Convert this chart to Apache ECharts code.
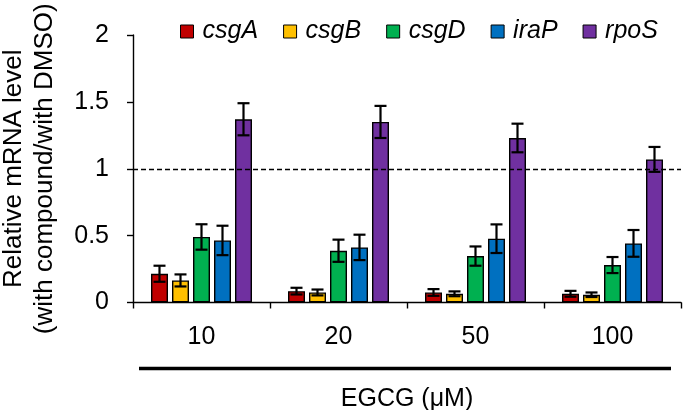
<!DOCTYPE html>
<html>
<head>
<meta charset="utf-8">
<script src="https://cdn.jsdelivr.net/npm/echarts@6/dist/echarts.min.js"></script>
<style>html,body{margin:0;padding:0;background:#fff;}#c{width:685px;height:410px;}</style>
</head>
<body>
<div id="c"></div>
<script>
var categories = ['10', '20', '50', '100'];
var genes = ['csgA', 'csgB', 'csgD', 'iraP', 'rpoS'];
var csgA = [0.215, 0.085, 0.075, 0.065];
var csgB = [0.165, 0.075, 0.065, 0.058];
var csgD = [0.49, 0.387, 0.347, 0.28];
var iraP = [0.464, 0.412, 0.477, 0.442];
var rpoS = [1.37, 1.35, 1.23, 1.07];
var csgAErr = [0.06, 0.025, 0.025, 0.022];
var csgBErr = [0.045, 0.022, 0.018, 0.017];
var csgDErr = [0.095, 0.083, 0.072, 0.06];
var iraPErr = [0.11, 0.095, 0.107, 0.1];
var rpoSErr = [0.12, 0.12, 0.107, 0.093];
var yTicks = [0, 0.5, 1, 1.5, 2];
var refLine = 1;

var values = [csgA, csgB, csgD, iraP, rpoS];
var errors = [csgAErr, csgBErr, csgDErr, iraPErr, rpoSErr];
var colors = ['#C00000', '#FFC000', '#00B050', '#0070C0', '#7030A0'];
var FONT = '"Liberation Sans", Arial, sans-serif';
var BAR_W = 17, BAR_GAP_PX = 4;

var chart = echarts.init(document.getElementById('c'), null, {renderer: 'canvas'});
var series = [];
genes.forEach(function (g, i) {
  var s = {
    name: g,
    type: 'bar',
    data: values[i],
    barWidth: BAR_W,
    barGap: (BAR_GAP_PX / BAR_W * 100) + '%',
    itemStyle: {color: colors[i], borderColor: '#000', borderWidth: 1.4},
    emphasis: {disabled: true},
    silent: true
  };
  if (i === 0) {
    s.markLine = {
      silent: true,
      symbol: 'none',
      label: {show: false},
      lineStyle: {color: '#000', type: [5, 3], width: 1.4},
      data: [{yAxis: refLine}]
    };
  }
  series.push(s);
});
var n = genes.length;
genes.forEach(function (g, i) {
  var offset = (i - (n - 1) / 2) * (BAR_W + BAR_GAP_PX);
  series.push({
    name: 'err-' + g,
    type: 'custom',
    silent: true,
    z: 10,
    data: values[i].map(function (v, k) { return [k, v, errors[i][k]]; }),
    renderItem: function (params, api) {
      var k = api.value(0), v = api.value(1), e = api.value(2);
      var top = api.coord([k, v + e]);
      var bot = api.coord([k, v - e]);
      var x = top[0] + offset;
      var cap = 6;
      var st = {stroke: '#000', lineWidth: 2.2};
      return {
        type: 'group',
        children: [
          {type: 'line', shape: {x1: x, y1: top[1], x2: x, y2: bot[1]}, style: st},
          {type: 'line', shape: {x1: x - cap, y1: top[1], x2: x + cap, y2: top[1]}, style: st},
          {type: 'line', shape: {x1: x - cap, y1: bot[1], x2: x + cap, y2: bot[1]}, style: st}
        ]
      };
    }
  });
});

chart.setOption({
  animation: false,
  backgroundColor: '#fff',
  textStyle: {fontFamily: FONT, color: '#000'},
  grid: {left: 133, right: 4, top: 35, bottom: 107.5, containLabel: false, outerBoundsMode: 'none'},
  legend: {
    data: genes,
    left: 175,
    top: 14,
    itemWidth: 13,
    itemHeight: 13,
    itemGap: 25,
    icon: 'rect',
    itemStyle: {borderColor: '#000', borderWidth: 1},
    textStyle: {fontFamily: FONT, fontSize: 25, fontStyle: 'italic', color: '#000', padding: [0, 0, 0, 4]}
  },
  xAxis: {
    type: 'category',
    data: categories,
    axisLine: {lineStyle: {color: '#000', width: 1.4}},
    axisTick: {show: true, length: 6, lineStyle: {color: '#000', width: 1.4}},
    axisLabel: {fontSize: 25, color: '#000', margin: 22, fontFamily: FONT},
    name: 'EGCG (μM)',
    nameLocation: 'middle',
    nameGap: 84,
    nameTextStyle: {fontSize: 25, color: '#000', fontFamily: FONT}
  },
  yAxis: {
    type: 'value',
    min: yTicks[0],
    max: yTicks[yTicks.length - 1],
    interval: yTicks[1] - yTicks[0],
    axisLine: {show: true, lineStyle: {color: '#000', width: 1.4}},
    axisTick: {show: true, length: 6, lineStyle: {color: '#000', width: 1.4}},
    splitLine: {show: false},
    axisLabel: {fontSize: 25, color: '#000', margin: 24, fontFamily: FONT},
    name: 'Relative mRNA level\n(with compound/with DMSO)',
    nameLocation: 'middle',
    nameGap: 73,
    nameRotate: 90,
    nameTextStyle: {fontSize: 26, color: '#000', fontFamily: FONT, lineHeight: 31, align: 'center'}
  },
  graphic: [{
    type: 'line',
    shape: {x1: 139, y1: 368.5, x2: 671, y2: 368.5},
    style: {stroke: '#000', lineWidth: 3.5}
  }],
  series: series
});
</script>
</body>
</html>
